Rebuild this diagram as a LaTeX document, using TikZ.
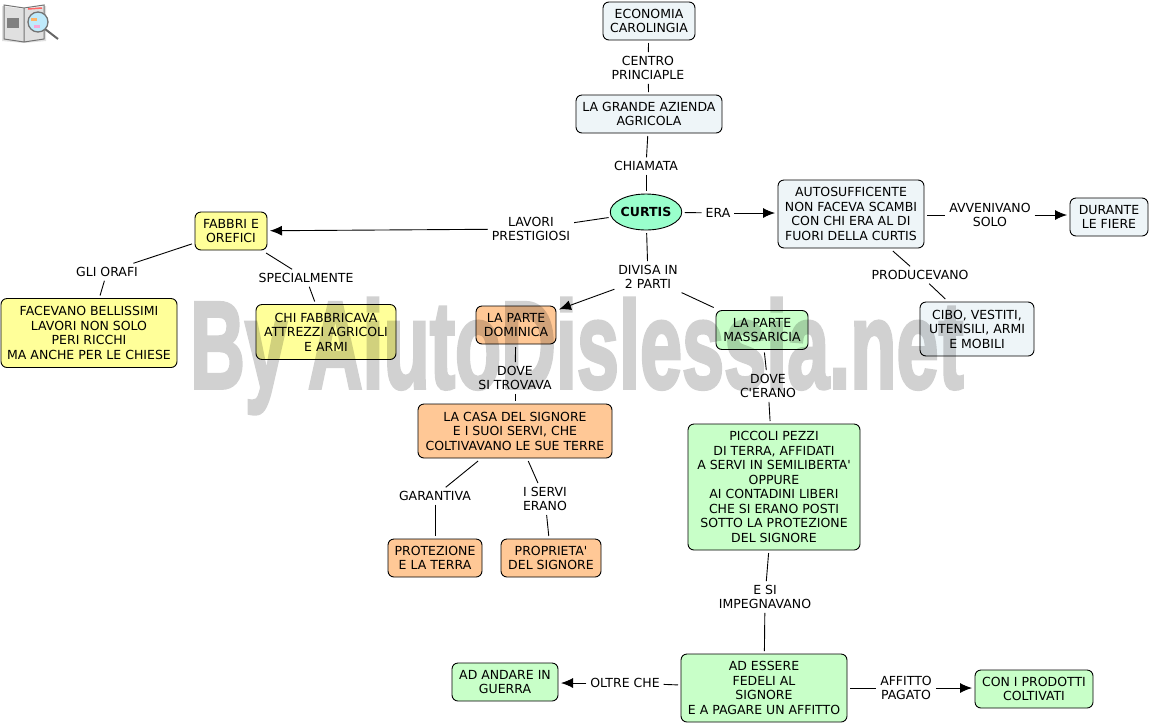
\documentclass[tikz,border=0pt]{standalone}
\usepackage{fontspec}
\setmainfont{DejaVu Sans}[Ligatures=TeXOff]
\newfontfamily\markfont{Liberation Sans}[BoldFeatures={FakeBold=3,Color=D1D1D1}]
\usetikzlibrary{shapes,positioning,arrows.meta}
\definecolor{cpale}{HTML}{EEF5F8}
\definecolor{cmint}{HTML}{99FFCC}
\definecolor{cyell}{HTML}{FFFF99}
\definecolor{corange}{HTML}{FFC896}
\definecolor{cgreen}{HTML}{C8FFC8}
\tikzset{
  concept/.style={draw,rounded corners=6pt,line width=.9pt,align=center,inner sep=0pt,outer sep=3pt,
    font=\fontsize{12.5}{14.5}\selectfont},
  lab/.style={align=center,inner sep=1pt,outer sep=3pt,font=\fontsize{12.5}{14.5}\selectfont},
  link/.style={line width=.9pt},
  arr/.style={line width=.9pt,-{Latex[length=12pt,width=10pt]}}
}
\begin{document}
\begin{tikzpicture}[x=1pt,y=-1pt]
  \useasboundingbox (0,0) rectangle (1151,724);
  % concepts
  \node[concept,fill=cpale,minimum width=92pt,minimum height=38pt] (economia) at (649,21) {ECONOMIA\\CAROLINGIA};
  \node[concept,fill=cpale,minimum width=146pt,minimum height=38pt] (azienda) at (649,114) {LA GRANDE AZIENDA\\AGRICOLA};
  \node[draw,ellipse,fill=cmint,line width=.9pt,minimum width=70pt,minimum height=36pt,inner sep=0pt,outer sep=3pt,font=\fontsize{12.5}{14.5}\selectfont\bfseries] (curtis) at (646,212) {CURTIS};
  \node[concept,fill=cpale,minimum width=146pt,minimum height=68pt] (auto) at (851,214) {AUTOSUFFICENTE\\NON FACEVA SCAMBI\\CON CHI ERA AL DI\\FUORI DELLA CURTIS};
  \node[concept,fill=cpale,minimum width=78pt,minimum height=38pt] (fiere) at (1109,217) {DURANTE\\LE FIERE};
  \node[concept,fill=cyell,minimum width=72pt,minimum height=38pt] (fabbri) at (231,231) {FABBRI E\\OREFICI};
  \node[concept,fill=cyell,minimum width=176pt,minimum height=69pt] (lavori) at (89,333) {FACEVANO BELLISSIMI\\LAVORI NON SOLO\\PERI RICCHI\\MA ANCHE PER LE CHIESE};
  \node[concept,fill=cyell,minimum width=140pt,minimum height=55pt] (attrezzi) at (326,332) {CHI FABBRICAVA\\ATTREZZI AGRICOLI\\E ARMI};
  \node[concept,fill=corange,minimum width=80pt,minimum height=38pt] (dominica) at (516,325) {LA PARTE\\DOMINICA};
  \node[concept,fill=cgreen,minimum width=92pt,minimum height=39pt] (massaricia) at (762,330) {LA PARTE\\MASSARICIA};
  \node[concept,fill=cpale,minimum width=114pt,minimum height=54pt] (cibo) at (977,329) {CIBO, VESTITI,\\UTENSILI, ARMI\\E MOBILI};
  \node[concept,fill=corange,minimum width=194pt,minimum height=54pt] (casa) at (515,431) {LA CASA DEL SIGNORE\\E I SUOI SERVI, CHE\\COLTIVAVANO LE SUE TERRE};
  \node[concept,fill=cgreen,minimum width=172pt,minimum height=126pt] (pezzi) at (774,487) {PICCOLI PEZZI\\DI TERRA, AFFIDATI\\A SERVI IN SEMILIBERTA'\\OPPURE\\AI CONTADINI LIBERI\\CHE SI ERANO POSTI\\SOTTO LA PROTEZIONE\\DEL SIGNORE};
  \node[concept,fill=corange,minimum width=94pt,minimum height=38pt] (protezione) at (435,558) {PROTEZIONE\\E LA TERRA};
  \node[concept,fill=corange,minimum width=100pt,minimum height=38pt] (proprieta) at (551,558) {PROPRIETA'\\DEL SIGNORE};
  \node[concept,fill=cgreen,minimum width=166pt,minimum height=68pt] (fedeli) at (764,688) {AD ESSERE\\FEDELI AL\\SIGNORE\\E A PAGARE UN AFFITTO};
  \node[concept,fill=cgreen,minimum width=106pt,minimum height=38pt] (guerra) at (505,682) {AD ANDARE IN\\GUERRA};
  \node[concept,fill=cgreen,minimum width=118pt,minimum height=38pt] (prodotti) at (1034,689) {CON I PRODOTTI\\COLTIVATI};
  % labels
  \node[lab] (centro) at (648,68) {CENTRO\\PRINCIAPLE};
  \node[lab] (chiamata) at (646,166) {CHIAMATA};
  \node[lab] (era) at (718,213) {ERA};
  \node[lab] (prestigiosi) at (531,229) {LAVORI\\PRESTIGIOSI};
  \node[lab] (avvenivano) at (990,215) {AVVENIVANO\\SOLO};
  \node[lab] (producevano) at (920,275) {PRODUCEVANO};
  \node[lab] (orafi) at (107,272) {GLI ORAFI};
  \node[lab] (special) at (306,278) {SPECIALMENTE};
  \node[lab] (divisa) at (648,277) {DIVISA IN\\2 PARTI};
  \node[lab] (trovava) at (515,378) {DOVE\\SI TROVAVA};
  \node[lab] (erano) at (768,386) {DOVE\\C'ERANO};
  \node[lab] (garantiva) at (435,496) {GARANTIVA};
  \node[lab] (servi) at (545,499) {I SERVI\\ERANO};
  \node[lab] (impegno) at (765,597) {E SI\\IMPEGNAVANO};
  \node[lab] (oltre) at (625,683) {OLTRE CHE};
  \node[lab] (affitto) at (906,688) {AFFITTO\\PAGATO};
  % connectors
  \draw[link] (economia) -- (centro);
  \draw[link] (centro) -- (azienda);
  \draw[link] (azienda) -- (chiamata);
  \draw[link] (chiamata) -- (curtis);
  \draw[link] (curtis) -- (era);
  \draw[arr] (era.east) -- (auto.west |- era.east);
  \draw[link] (auto.east |- avvenivano.west) -- (avvenivano.west);
  \draw[arr] (avvenivano.east) -- (fiere.west |- avvenivano.east);
  \draw[link] (auto) -- (producevano);
  \draw[link] (producevano) -- (cibo);
  \draw[link] (curtis) -- (prestigiosi);
  \draw[arr] (prestigiosi) -- (fabbri);
  \draw[link] (fabbri) -- (orafi);
  \draw[link] (orafi) -- (lavori);
  \draw[link] (fabbri) -- (special);
  \draw[link] (special) -- (attrezzi);
  \draw[link] (curtis) -- (divisa);
  \draw[arr] (divisa) -- (dominica);
  \draw[link] (divisa) -- (massaricia);
  \draw[link] (dominica) -- (trovava);
  \draw[link] (trovava) -- (casa);
  \draw[link] (massaricia) -- (erano);
  \draw[link] (erano) -- (pezzi);
  \draw[link] (casa) -- (garantiva);
  \draw[link] (garantiva) -- (protezione);
  \draw[link] (casa) -- (servi);
  \draw[link] (servi) -- (proprieta);
  \draw[link] (pezzi) -- (impegno);
  \draw[link] (impegno) -- (fedeli);
  \draw[link] (fedeli) -- (oltre);
  \draw[arr] (oltre.west) -- (guerra.east |- oltre.west);
  \draw[link] (fedeli) -- (affitto);
  \draw[arr] (affitto.east) -- (prodotti.west |- affitto.east);
  % book and lens
  \fill[black!12] (2,6) -- (24,9) -- (46,6) -- (46,41) -- (24,43) -- (2,41) -- cycle;
  \draw[black!55,line width=1pt] (4,5) -- (24,8) -- (44,5) -- (44,39) -- (24,42) -- (4,39) -- cycle (24,8) -- (24,42);
  \fill[black!50] (7,18) rectangle (19,28);
  \draw[red!60,line width=1.5pt] (28,9) -- (42,8);
  \draw[black!60,line width=2pt] (45,29) -- (58,39);
  \draw[black!55,fill=cyan!25,line width=1.3pt] (38,22) circle (10pt);
  \fill[orange!60] (31,18) rectangle (37,21);
  \fill[magenta!35] (34,25) rectangle (40,28);
  % watermark
  \begin{scope}[blend mode=multiply]
    \begin{scope}[transparency group]
      \node[inner sep=0pt,xscale=.61,transform shape,font=\markfont\bfseries\fontsize{124}{124}\selectfont] (mark) at (577,356) {By AiutoDislessia.net};
    \end{scope}
  \end{scope}
\end{tikzpicture}
\end{document}
